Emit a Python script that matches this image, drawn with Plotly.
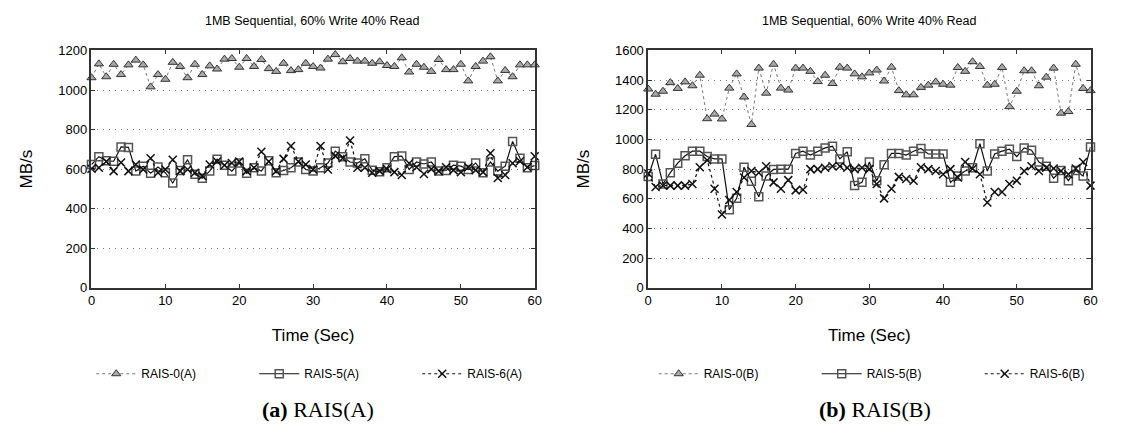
import plotly.graph_objects as go

time_sec = list(range(61))

rais0_a = [1062, 1132, 1067, 1130, 1078, 1127, 1151, 1127, 1016, 1078, 1054, 1140, 1119, 1062, 1130, 1078,
           1122, 1106, 1156, 1159, 1115, 1159, 1119, 1154, 1108, 1094, 1135, 1098, 1103, 1135, 1119, 1111,
           1156, 1179, 1143, 1159, 1146, 1146, 1135, 1143, 1124, 1119, 1163, 1091, 1130, 1115, 1094, 1154,
           1103, 1103, 1130, 1046, 1119, 1146, 1168, 1046, 1099, 1067, 1127, 1127, 1127]
rais5_a = [623, 663, 642, 640, 712, 710, 590, 615, 579, 611, 582, 530, 593, 647, 574, 554, 590, 650, 620,
           590, 631, 579, 607, 590, 642, 582, 593, 607, 636, 598, 590, 607, 631, 691, 663, 636, 631, 652,
           595, 587, 607, 663, 666, 598, 636, 626, 636, 590, 593, 620, 615, 598, 631, 582, 636, 590, 615,
           740, 655, 607, 618]
rais6_a = [602, 607, 639, 590, 634, 590, 623, 598, 655, 582, 598, 647, 590, 598, 582, 566, 623, 639, 620,
           631, 639, 590, 607, 688, 639, 590, 652, 717, 639, 623, 598, 717, 598, 667, 655, 745, 607, 607,
           582, 590, 600, 585, 570, 630, 610, 575, 600, 590, 610, 595, 585, 610, 595, 585, 680, 555, 570,
           630, 640, 610, 665]

rais0_b = [1340, 1305, 1325, 1383, 1344, 1388, 1362, 1433, 1140, 1171, 1138, 1346, 1442, 1286, 1101, 1481,
           1312, 1507, 1346, 1333, 1481, 1481, 1459, 1390, 1433, 1377, 1487, 1481, 1442, 1422, 1448, 1468,
           1394, 1487, 1329, 1301, 1301, 1351, 1366, 1388, 1372, 1366, 1485, 1459, 1524, 1492, 1366, 1372,
           1485, 1221, 1325, 1463, 1463, 1362, 1420, 1481, 1177, 1188, 1507, 1344, 1329]
rais5_b = [750, 900, 700, 776, 840, 890, 921, 921, 885, 869, 869, 527, 603, 813, 718, 614, 754, 798, 800,
           800, 906, 921, 895, 921, 943, 954, 869, 917, 689, 711, 848, 722, 830, 906, 906, 895, 921, 939,
           902, 902, 902, 711, 754, 787, 809, 971, 787, 902, 921, 934, 885, 943, 928, 848, 820, 739, 791,
           722, 791, 754, 950]
rais6_b = [770, 680, 690, 689, 689, 689, 700, 813, 860, 668, 494, 592, 646, 744, 787, 776, 820, 711, 668,
           726, 657, 661, 800, 800, 809, 820, 820, 809, 800, 809, 800, 700, 603, 668, 748, 733, 722, 813,
           800, 787, 765, 800, 744, 848, 802, 765, 575, 646, 646, 700, 722, 787, 820, 787, 809, 804, 787,
           765, 804, 848, 689]

x_ticks = [0, 10, 20, 30, 40, 50, 60]
title_text = "1MB Sequential, 60% Write 40% Read"

W, H = 1143, 430
FONT = "Liberation Sans, Arial, sans-serif"


def px_x(p):
    return p / W


def px_y(p):
    return (H - p) / H


styles = {
    0: dict(mode="lines+markers",
            line=dict(color="#777777", width=1, dash="dot"),
            marker=dict(symbol="triangle-up", size=8, color="#a8a8a8",
                        line=dict(color="#333333", width=1))),
    5: dict(mode="lines+markers",
            line=dict(color="#111111", width=1.2),
            marker=dict(symbol="square-open", size=8, color="#555555",
                        line=dict(width=1.5))),
    6: dict(mode="lines+markers",
            line=dict(color="#111111", width=1.2, dash="dot"),
            marker=dict(symbol="x-thin-open", size=8, color="#111111",
                        line=dict(width=1.5, color="#111111"))),
}

fig = go.Figure()

series_a = [("RAIS-0(A)", rais0_a, 0), ("RAIS-5(A)", rais5_a, 5), ("RAIS-6(A)", rais6_a, 6)]
series_b = [("RAIS-0(B)", rais0_b, 0), ("RAIS-5(B)", rais5_b, 5), ("RAIS-6(B)", rais6_b, 6)]

for name, vals, k in series_a:
    fig.add_trace(go.Scatter(x=time_sec, y=vals, name=name, xaxis="x", yaxis="y",
                             legend="legend", cliponaxis=False, **styles[k]))
for name, vals, k in series_b:
    fig.add_trace(go.Scatter(x=time_sec, y=vals, name=name, xaxis="x2", yaxis="y2",
                             legend="legend2", cliponaxis=False, **styles[k]))

axis_common = dict(
    showline=True, linecolor="#333333", linewidth=1.5, mirror="ticks",
    ticks="inside", ticklen=4, tickwidth=1, tickcolor="#333333",
    tickfont=dict(family=FONT, size=13, color="#000000"),
    zeroline=False,
)

xa = dict(axis_common, range=[0, 60], tickvals=x_ticks, showgrid=False,
          title=dict(text="Time (Sec)", font=dict(family=FONT, size=17, color="#000"), standoff=22))
ya = dict(axis_common, showgrid=True, gridcolor="#777777", gridwidth=1, griddash="1px,5px",
          title=dict(text="MB/s", font=dict(family=FONT, size=17, color="#000"), standoff=21))

y_dom = [px_y(291), px_y(45)]

leg_common = dict(orientation="h", xanchor="center", y=px_y(380), yanchor="middle",
                  font=dict(family=FONT, size=12, color="#000"), entrywidth=108, itemwidth=40,
                  bgcolor="rgba(0,0,0,0)")

fig.update_layout(
    width=W, height=H,
    margin=dict(l=0, r=0, t=0, b=0),
    paper_bgcolor="white", plot_bgcolor="white",
    xaxis=dict(xa, domain=[px_x(91), px_x(552)], anchor="y"),
    yaxis=dict(ya, domain=y_dom, range=[0, 1200], dtick=200, anchor="x"),
    xaxis2=dict(xa, domain=[px_x(670), px_x(1130)], anchor="y2"),
    yaxis2=dict(ya, domain=y_dom, range=[0, 1600], dtick=200, anchor="x2"),
    legend=dict(leg_common, x=px_x(345)),
    legend2=dict(leg_common, x=px_x(930)),
    showlegend=True,
)

for cx, cap in [(321, "<b>(a)</b> RAIS(A)"), (900, "<b>(b)</b> RAIS(B)")]:
    fig.add_annotation(text=title_text, x=px_x(cx), y=px_y(14), xref="paper", yref="paper",
                       showarrow=False, xanchor="center", yanchor="middle",
                       font=dict(family=FONT, size=12.5, color="#000"))
    fig.add_annotation(text=cap, x=px_x(cx + 6), y=px_y(417), xref="paper", yref="paper",
                       showarrow=False, xanchor="center", yanchor="middle",
                       font=dict(family="Liberation Serif, Times New Roman, serif", size=22, color="#000"))

fig.write_html("out.html")
